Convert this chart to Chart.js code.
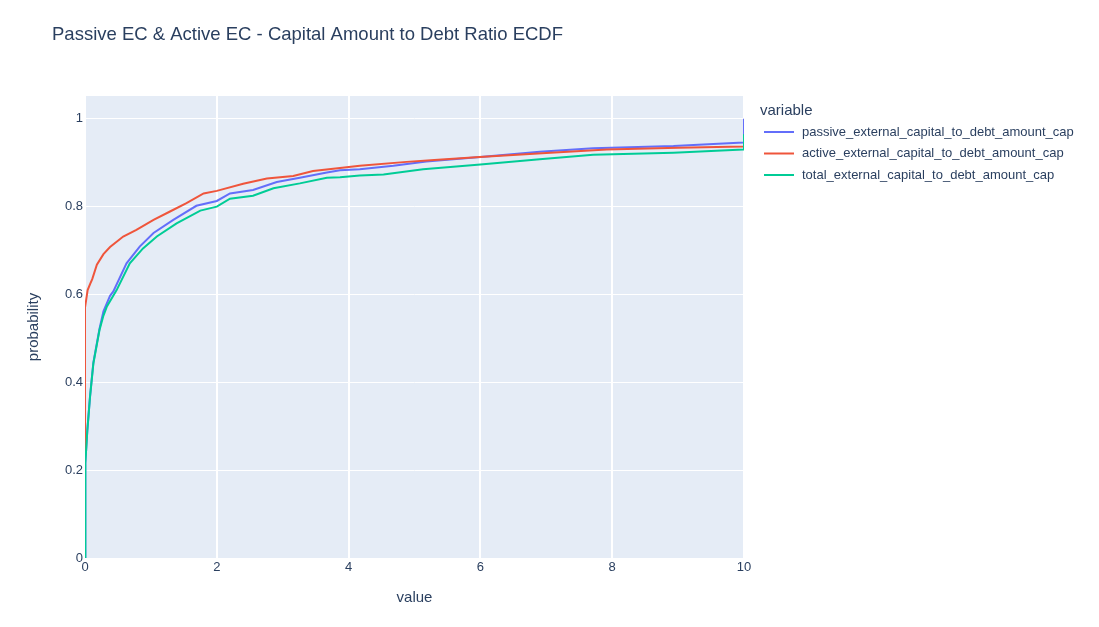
<!DOCTYPE html>
<html>
<head>
<meta charset="utf-8">
<script src="https://cdn.jsdelivr.net/npm/chart.js@4.4.1/dist/chart.umd.min.js"></script>
<style>
  body { margin: 0; background: #fff; }
  #wrap { width: 1099px; height: 627px; position: relative; }
</style>
</head>
<body>
<div id="wrap"><canvas id="chart"></canvas></div>
<script>
// values
const seriesNames = [
    "passive_external_capital_to_debt_amount_cap",
    "active_external_capital_to_debt_amount_cap",
    "total_external_capital_to_debt_amount_cap"
];
const seriesColors = ["#636efa", "#EF553B", "#00cc96"];

const passiveX = [0, 0, 0.01, 0.035, 0.076, 0.127, 0.22, 0.28, 0.38, 0.43, 0.63, 0.83, 1.04, 1.34, 1.69, 2.0, 2.2, 2.55, 2.91, 3.26, 3.67, 3.87, 4.17, 4.68, 5.18, 6.0, 6.9, 7.71, 8.93, 9.99, 10, 10];
const passiveY = [0, 0.2, 0.216, 0.29, 0.367, 0.445, 0.522, 0.562, 0.597, 0.607, 0.671, 0.709, 0.740, 0.770, 0.802, 0.813, 0.830, 0.838, 0.856, 0.866, 0.878, 0.883, 0.885, 0.893, 0.903, 0.913, 0.925, 0.933, 0.938, 0.946, 0.946, 1.0];

const activeX = [0, 0, 0.02, 0.04, 0.08, 0.11, 0.18, 0.28, 0.38, 0.58, 0.78, 1.04, 1.29, 1.54, 1.8, 2.0, 2.4, 2.76, 3.16, 3.46, 3.87, 4.17, 4.88, 5.3, 5.99, 7.0, 7.92, 9.0, 9.99, 10, 10];
const activeY = [0, 0.57, 0.59, 0.61, 0.625, 0.635, 0.668, 0.692, 0.708, 0.732, 0.747, 0.770, 0.789, 0.808, 0.830, 0.836, 0.852, 0.864, 0.870, 0.881, 0.888, 0.893, 0.902, 0.906, 0.913, 0.922, 0.930, 0.934, 0.937, 0.937, 0.95];

const totalX = [0, 0, 0.01, 0.035, 0.076, 0.127, 0.22, 0.28, 0.33, 0.48, 0.68, 0.88, 1.09, 1.39, 1.75, 2.0, 2.2, 2.55, 2.86, 3.26, 3.67, 3.87, 4.17, 4.53, 5.13, 6.0, 6.9, 7.71, 8.93, 9.99, 10, 10];
const totalY = [0, 0.2, 0.216, 0.29, 0.367, 0.443, 0.519, 0.552, 0.572, 0.610, 0.671, 0.705, 0.732, 0.762, 0.791, 0.800, 0.818, 0.825, 0.842, 0.853, 0.866, 0.867, 0.871, 0.873, 0.885, 0.896, 0.908, 0.918, 0.923, 0.930, 0.930, 0.965];

const xTicks = [0, 2, 4, 6, 8, 10];
const yTicks = [0, 0.2, 0.4, 0.6, 0.8, 1];

const FONT = "'Liberation Sans', Arial, sans-serif";
const INK = "#2a3f5f";

function toPoints(xs, ys){
    const pts = [];
    for(let i = 0; i < xs.length; i++){
        pts.push({x: xs[i], y: ys[i]});
    }
    return pts;
}

const allX = [passiveX, activeX, totalX];
const allY = [passiveY, activeY, totalY];

const datasets = seriesNames.map((name, i) => ({
    label: name,
    data: toPoints(allX[i], allY[i]),
    borderColor: seriesColors[i],
    backgroundColor: seriesColors[i],
    borderWidth: 2,
    pointRadius: 0,
    tension: 0,
    clip: 0,
    order: 3 - i   // plotly draws the last trace on top
}));

// plot background, titles and legend, drawn where plotly puts them
const decor = {
    id: 'decor',
    beforeDraw(chart){
        const {ctx, chartArea: a} = chart;
        ctx.save();
        ctx.fillStyle = "#E5ECF6";
        ctx.fillRect(a.left, a.top, a.right - a.left, a.bottom - a.top);
        ctx.restore();
    },
    afterDraw(chart){
        const ctx = chart.ctx;
        ctx.save();
        ctx.fillStyle = INK;
        ctx.textBaseline = "middle";

        ctx.font = "18.5px " + FONT;
        ctx.textAlign = "left";
        ctx.fillText("Passive EC & Active EC - Capital Amount to Debt Ratio ECDF", 52, 35);

        ctx.font = "15px " + FONT;
        ctx.textAlign = "center";
        ctx.fillText("value", 414.5, 598);
        ctx.save();
        ctx.translate(34, 327);
        ctx.rotate(-Math.PI / 2);
        ctx.fillText("probability", 0, 0);
        ctx.restore();

        ctx.textAlign = "left";
        ctx.fillText("variable", 760, 111);
        ctx.font = "13px " + FONT;
        const rows = [132, 153.5, 175];
        for(let i = 0; i < seriesNames.length; i++){
            ctx.strokeStyle = seriesColors[i];
            ctx.lineWidth = 2;
            ctx.beginPath();
            ctx.moveTo(764, rows[i]);
            ctx.lineTo(794, rows[i]);
            ctx.stroke();
            ctx.fillStyle = INK;
            ctx.fillText(seriesNames[i], 802, rows[i]);
        }
        ctx.restore();
    }
};

new Chart(document.getElementById('chart').getContext('2d'), {
    type: 'line',
    data: { datasets: datasets },
    options: {
        responsive: true,
        maintainAspectRatio: false,
        animation: false,
        events: [],
        layout: { padding: { top: 96, right: 355, bottom: 0, left: 0 } },
        plugins: {
            legend: { display: false },
            title: { display: false },
            tooltip: { enabled: false }
        },
        scales: {
            x: {
                type: 'linear',
                min: 0,
                max: 10,
                afterFit(scale){ scale.height = 69; },
                afterBuildTicks(scale){ scale.ticks = xTicks.map(v => ({value: v})); },
                grid: { color: "#ffffff", lineWidth: 2, drawTicks: false },
                border: { display: false },
                ticks: {
                    padding: 2,
                    color: INK,
                    font: { family: FONT, size: 13 },
                    maxRotation: 0,
                    callback: v => String(v)
                }
            },
            y: {
                type: 'linear',
                min: 0,
                max: 1.052,
                afterFit(scale){ scale.width = 85; },
                afterBuildTicks(scale){ scale.ticks = yTicks.map(v => ({value: v})); },
                grid: { color: "#ffffff", lineWidth: 1, drawTicks: false },
                border: { display: false },
                ticks: {
                    padding: 2,
                    color: INK,
                    font: { family: FONT, size: 13 },
                    callback: v => String(Math.round(v * 10) / 10)
                }
            }
        }
    },
    plugins: [decor]
});
</script>
</body>
</html>
